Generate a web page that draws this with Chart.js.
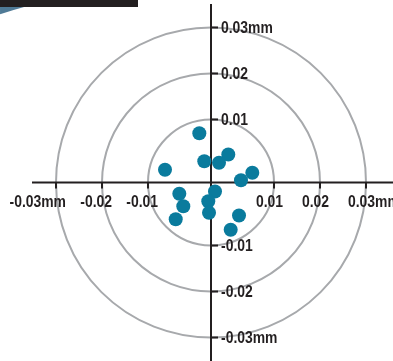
<!DOCTYPE html>
<html>
<head>
<meta charset="utf-8">
<script src="https://cdn.jsdelivr.net/npm/chart.js@4.4.1/dist/chart.umd.min.js"></script>
<style>
  html, body { margin: 0; padding: 0; background: #fff; overflow: hidden; }
  canvas { display: block; }
</style>
</head>
<body>
<canvas id="target" width="393" height="361"></canvas>
<script>
// shot positions (same units as the axis ticks)
const shotX = [-0.00254, 0.00376, -0.00146, 0.00174, -0.0100, 0.00898, 0.00652, 0.00087,
               -0.00689, -0.00059, -0.00602, -0.00043, 0.00609, -0.00767, 0.00428];
const shotY = [0.01072, 0.00609, 0.00463, 0.00428, 0.00276, 0.00211, 0.0005, -0.00196,
               -0.00246, -0.00407, -0.00515, -0.00659, -0.00717, -0.00798, -0.01028];
// ring / tick values and their labels
const ringValues = [0.0137, 0.0237, 0.0337];
const ringLabels = ['0.01', '0.02', '0.03mm'];

const INK = '#231f20';
const FONT = 'bold 16px "Liberation Sans", Arial, sans-serif';

// condensed label, like the narrow face in the original
function label(ctx, txt, x, y, align) {
    ctx.save();
    ctx.translate(x, y);
    ctx.scale(0.87, 1);
    ctx.textAlign = align;
    ctx.textBaseline = 'middle';
    ctx.fillText(txt, 0, 0);
    ctx.restore();
}

const targetPlugin = {
    id: 'target',
    beforeDatasetsDraw(chart) {
        const ctx = chart.ctx;
        const xs = chart.scales.x, ys = chart.scales.y;
        const cx = xs.getPixelForValue(0), cy = ys.getPixelForValue(0);
        ctx.save();
        // decorative header bits
        const bx = 200, by = 640, br = 657;
        ctx.fillStyle = '#4f7a96';
        ctx.beginPath();
        ctx.moveTo(0, 7);
        ctx.lineTo(25, 7);
        ctx.arc(bx, by, br, Math.atan2(7 - by, 25 - bx), Math.atan2(14 - by, 0 - bx), true);
        ctx.closePath();
        ctx.fill();
        ctx.fillStyle = INK;
        ctx.fillRect(0, 0, 138, 7);
        // rings
        ctx.strokeStyle = '#a7a9ac';
        ctx.lineWidth = 2;
        ringValues.forEach(v => {
            const r = xs.getPixelForValue(v) - cx;
            ctx.beginPath();
            ctx.arc(cx, cy, r, 0, Math.PI * 2);
            ctx.stroke();
        });
        // axes
        ctx.strokeStyle = INK;
        ctx.lineWidth = 2;
        ctx.beginPath();
        ctx.moveTo(32, cy); ctx.lineTo(393, cy);
        ctx.moveTo(cx, 4); ctx.lineTo(cx, 361);
        ctx.stroke();
        ctx.font = FONT;
        ctx.fillStyle = INK;
        ringValues.forEach((v, i) => {
            [1, -1].forEach(s => {
                const px = xs.getPixelForValue(s * v);
                const py = ys.getPixelForValue(s * v);
                ctx.beginPath();
                ctx.moveTo(px, cy); ctx.lineTo(px, cy + 6);
                ctx.moveTo(cx, py); ctx.lineTo(cx + 7, py);
                ctx.stroke();
                const txt = (s < 0 ? '-' : '') + ringLabels[i];
                if (s > 0) label(ctx, txt, px - 18, cy + 20, 'left');
                else label(ctx, txt, px + 10, cy + 20, 'right');
                label(ctx, txt, cx + 10, py + 1, 'left');
            });
        });
        ctx.restore();
    }
};

new Chart(document.getElementById('target'), {
    type: 'scatter',
    data: {
        datasets: [{
            data: shotX.map((x, i) => ({ x: x, y: shotY[i] })),
            backgroundColor: '#0a7b9d',
            borderWidth: 0,
            pointRadius: 7,
            pointHoverRadius: 7
        }]
    },
    options: {
        responsive: false,
        animation: false,
        layout: { autoPadding: false, padding: { left: 29, right: 0, top: 4, bottom: 0 } },
        plugins: {
            legend: { display: false },
            tooltip: { enabled: false }
        },
        scales: {
            x: { type: 'linear', display: false, min: -0.03957, max: 0.03957 },
            y: { type: 'linear', display: false, min: -0.0388, max: 0.0388 }
        }
    },
    plugins: [targetPlugin]
});
</script>
</body>
</html>
